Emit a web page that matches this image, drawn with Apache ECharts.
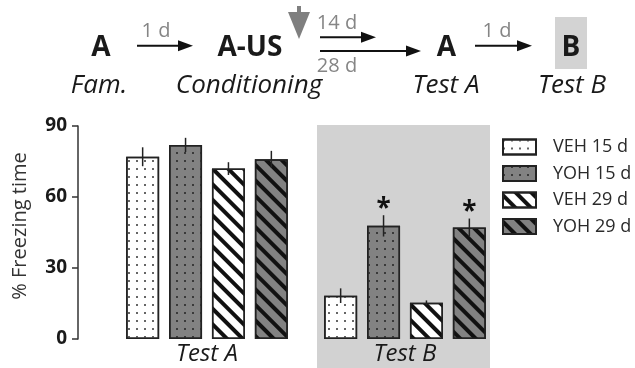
<!DOCTYPE html>
<html>
<head>
<meta charset="utf-8">
<script src="https://cdn.jsdelivr.net/npm/echarts@6/dist/echarts.min.js"></script>
<style>
html,body{margin:0;padding:0;background:#fff;}
#chart{width:635px;height:368px;}
</style>
</head>
<body>
<div id="chart"></div>
<script>
// ---- data ----
var categories = ['Test A', 'Test B'];
var seriesNames = ['VEH 15 d', 'YOH 15 d', 'VEH 29 d', 'YOH 29 d'];
var veh15 = [77, 18.3];
var yoh15 = [82, 47.8];
var veh29 = [72, 15.3];
var yoh29 = [76, 47.1];
var veh15Sem = [4, 3.1];
var yoh15Sem = [3, 4.5];
var veh29Sem = [2.7, 1];
var yoh29Sem = [3.5, 3.8];
var veh15Star = [0, 0];
var yoh15Star = [0, 1];
var veh29Star = [0, 0];
var yoh29Star = [0, 1];
var yTicks = [0, 30, 60, 90];

var FONT = '"Open Sans", sans-serif';
var means = [veh15, yoh15, veh29, yoh29];
var sems = [veh15Sem, yoh15Sem, veh29Sem, yoh29Sem];
var stars = [veh15Star, yoh15Star, veh29Star, yoh29Star];

var GRAY = '#828282';
var dotsLight = {symbol: 'rect', symbolSize: 1, dashArrayX: [1.4, 5.6], dashArrayY: [1.4, 6], color: '#666'};
var dotsDark = {symbol: 'rect', symbolSize: 1, dashArrayX: [1.4, 5.6], dashArrayY: [1.4, 6], color: '#3a3a3a'};
var stripes = {symbol: 'rect', symbolSize: 1, dashArrayX: [1, 0], dashArrayY: [3.2, 6.3], rotation: Math.PI / 4, color: '#111'};
var fills = [
  {color: '#ffffff', decal: dotsLight},
  {color: GRAY, decal: dotsDark},
  {color: '#ffffff', decal: stripes},
  {color: GRAY, decal: stripes}
];

var BAR_W = 33, BAR_GAP = 0.3;

var series = seriesNames.map(function (name, i) {
  return {
    name: name,
    type: 'bar',
    barWidth: BAR_W,
    barGap: (BAR_GAP * 100) + '%',
    data: means[i],
    z: 2,
    itemStyle: {color: fills[i].color, decal: fills[i].decal, borderColor: '#222', borderWidth: 1.5}
  };
});

var errData = [];
for (var s = 0; s < 4; s++) {
  for (var c = 0; c < categories.length; c++) {
    errData.push([c, s, means[s][c], sems[s][c], stars[s][c]]);
  }
}
series.push({
  type: 'custom',
  name: 'err',
  data: errData,
  z: 5,
  silent: true,
  encode: {x: 0, y: 2},
  renderItem: function (params, api) {
    var c = api.value(0), s = api.value(1), m = api.value(2), e = api.value(3), st = api.value(4);
    var step = BAR_W * (1 + BAR_GAP);
    var top = api.coord([c, m + e]);
    var bot = api.coord([c, m - e]);
    var x = top[0] + (s - 1.5) * step;
    var children = [{
      type: 'line',
      shape: {x1: x, y1: top[1], x2: x, y2: bot[1]},
      style: {stroke: '#222', lineWidth: 1.5}
    }];
    if (st) {
      children.push({
        type: 'text',
        style: {text: '*', x: x, y: top[1] + 7, align: 'center', verticalAlign: 'bottom',
          font: 'bold 26px ' + FONT, fill: '#111'}
      });
    }
    return {type: 'group', children: children};
  }
});

function txt(t, x, y, font, fill) {
  return {type: 'text', z: 10, style: {text: t, x: x, y: y, align: 'center', verticalAlign: 'middle', font: font, fill: fill}};
}
function arrow(x1, x2, y) {
  return [
    {type: 'line', z: 10, shape: {x1: x1, y1: y, x2: x2 - 10, y2: y}, style: {stroke: '#111', lineWidth: 2}},
    {type: 'polygon', z: 10, shape: {points: [[x2 - 15, y - 5.5], [x2, y], [x2 - 15, y + 5.5]]}, style: {fill: '#111'}}
  ];
}
var BOLD = 'bold 28px ' + FONT;
var ITAL = 'italic 26px ' + FONT;
var SMALL = '20px ' + FONT;
var graphics = [
  // Test B background panel
  {type: 'rect', z: -10, shape: {x: 317, y: 125, width: 173, height: 243}, style: {fill: '#d2d2d2'}},
  // B box in header
  {type: 'rect', z: 5, shape: {x: 555, y: 17, width: 32, height: 52}, style: {fill: '#d3d3d3'}},
  txt('A', 101, 48, BOLD, '#1a1a1a'),
  txt('A-US', 250, 48, BOLD, '#1a1a1a'),
  txt('A', 446.5, 48, BOLD, '#1a1a1a'),
  txt('B', 571, 48, BOLD, '#1a1a1a'),
  txt('Fam.', 99, 86, ITAL, '#1a1a1a'),
  txt('Conditioning', 249, 86, ITAL, '#1a1a1a'),
  txt('Test A', 446, 86, ITAL, '#1a1a1a'),
  txt('Test B', 572, 86, ITAL, '#1a1a1a'),
  txt('1 d', 156, 31, SMALL, '#858585'),
  txt('14 d', 337, 23.5, SMALL, '#858585'),
  txt('28 d', 337, 66, SMALL, '#858585'),
  txt('1 d', 497, 31, SMALL, '#858585'),
  // gray down arrow
  {type: 'rect', z: 10, shape: {x: 297, y: 6, width: 4, height: 8}, style: {fill: '#7f7f7f'}},
  {type: 'polygon', z: 10, shape: {points: [[288, 12], [310, 12], [299, 39]]}, style: {fill: '#7f7f7f'}},
  // y-axis title
  {type: 'text', z: 10, x: 20, y: 226, rotation: Math.PI / 2,
    style: {text: '% Freezing time', x: 0, y: 0, align: 'center', verticalAlign: 'middle', font: '20px ' + FONT, fill: '#333'}}
].concat(arrow(137, 193, 45.7), arrow(320, 376, 37.3), arrow(320, 421, 51), arrow(475, 532, 45.7));

var chart = echarts.init(document.getElementById('chart'), null, {renderer: 'canvas'});
chart.setOption({
  animation: false,
  backgroundColor: '#fff',
  grid: {left: 108, right: 131, top: 126, bottom: 29, containLabel: false},
  legend: {
    data: seriesNames,
    left: 497, top: 133,
    orient: 'vertical',
    itemWidth: 33, itemHeight: 15, itemGap: 8.5,
    icon: 'rect',
    textStyle: {fontFamily: FONT, fontSize: 18, color: '#2a2a2a', padding: [0, 0, 0, 12]}
  },
  xAxis: {
    type: 'category',
    data: categories,
    axisLine: {show: false},
    axisTick: {show: false},
    axisLabel: {fontFamily: FONT, fontStyle: 'italic', fontSize: 24, color: '#1a1a1a', margin: 3}
  },
  yAxis: {
    type: 'value',
    min: yTicks[0], max: yTicks[yTicks.length - 1], interval: 30,
    offset: 30,
    splitLine: {show: false},
    axisLine: {show: true, lineStyle: {color: '#333', width: 1.5}},
    axisTick: {show: true, length: 6, lineStyle: {color: '#333', width: 1.5}},
    axisLabel: {fontFamily: FONT, fontWeight: 'bold', fontSize: 19, color: '#1a1a1a', margin: 11}
  },
  graphic: graphics,
  series: series
});
</script>
</body>
</html>
